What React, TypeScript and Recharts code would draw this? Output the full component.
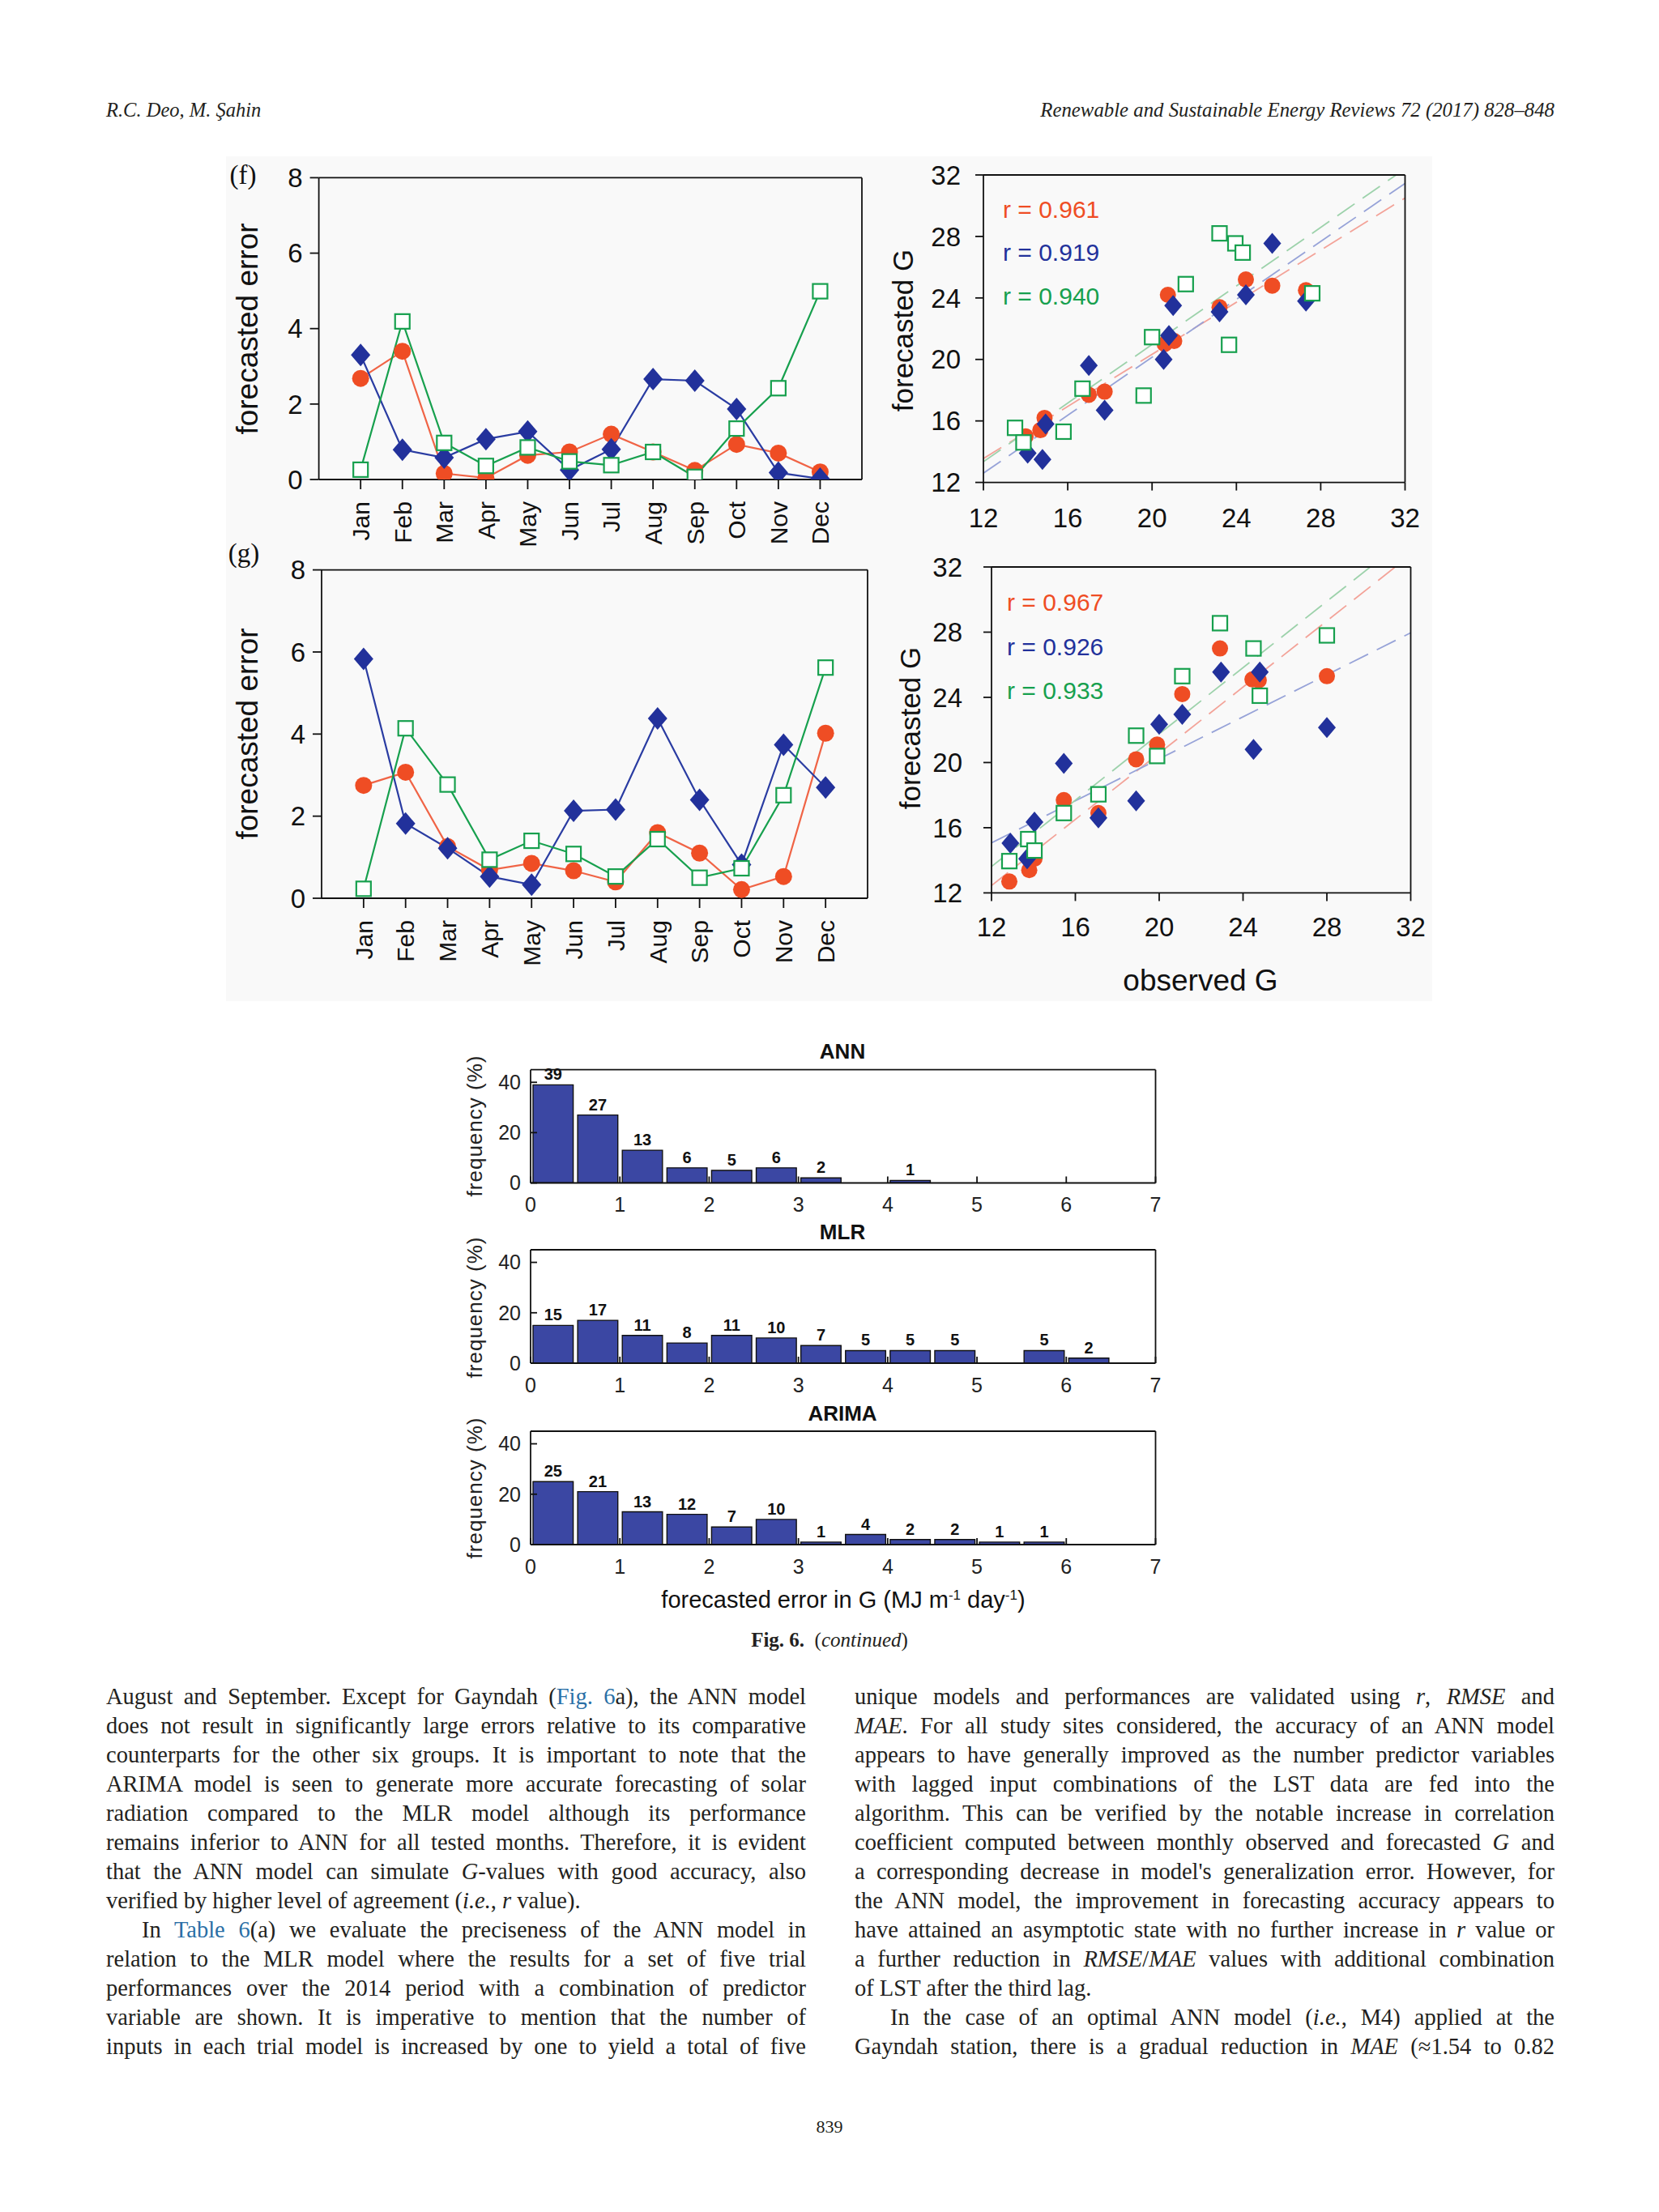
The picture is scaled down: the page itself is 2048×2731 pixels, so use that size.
import React from 'react';
import {
  LineChart, Line, XAxis, YAxis, ScatterChart, Scatter, ReferenceLine, ComposedChart, Bar, LabelList,
} from 'recharts';

// ---------------- data ----------------
const months = ['Jan', 'Feb', 'Mar', 'Apr', 'May', 'Jun', 'Jul', 'Aug', 'Sep', 'Oct', 'Nov', 'Dec'];
const monthPos = [1, 2, 3, 4, 5, 6, 7, 8, 9, 10, 11, 12];
const errTicks = [0, 2, 4, 6, 8];

// panel (f): monthly forecasted error
const errF_ANN = [2.68, 3.4, 0.16, 0.04, 0.64, 0.73, 1.2, 0.73, 0.24, 0.93, 0.7, 0.2];
const errF_MLR = [3.3, 0.79, 0.58, 1.07, 1.27, 0.25, 0.8, 2.66, 2.62, 1.87, 0.18, 0.02];
const errF_ARIMA = [0.26, 4.19, 0.97, 0.36, 0.85, 0.48, 0.38, 0.73, 0.07, 1.35, 2.42, 4.99];
// panel (g): monthly forecasted error
const errG_ANN = [2.75, 3.07, 1.26, 0.69, 0.85, 0.67, 0.4, 1.6, 1.1, 0.21, 0.53, 4.02];
const errG_MLR = [5.83, 1.82, 1.22, 0.53, 0.33, 2.13, 2.16, 4.38, 2.4, 0.82, 3.74, 2.7];
const errG_ARIMA = [0.23, 4.14, 2.77, 0.94, 1.4, 1.08, 0.53, 1.44, 0.5, 0.73, 2.51, 5.62];

// scatter (f): observed vs forecasted G
const obsF_ANN = [14.0, 14.7, 14.9, 17.0, 17.75, 20.6, 20.75, 21.05, 23.2, 24.45, 25.7, 27.3];
const fcF_ANN = [15.0, 15.4, 16.2, 17.7, 17.9, 21.0, 24.2, 21.2, 23.4, 25.2, 24.8, 24.5];
const obsF_MLR = [14.1, 14.8, 14.95, 17.0, 17.75, 20.55, 20.8, 21.0, 23.2, 24.45, 25.7, 27.3];
const fcF_MLR = [13.9, 13.5, 15.8, 19.6, 16.7, 20.0, 21.55, 23.5, 23.1, 24.2, 27.55, 23.8];
const obsF_ARIMA = [13.5, 13.9, 15.8, 16.7, 19.6, 20.0, 21.6, 23.2, 23.95, 24.3, 23.65, 27.6];
const fcF_ARIMA = [15.55, 14.6, 15.3, 18.1, 17.65, 21.45, 24.9, 28.2, 27.55, 26.95, 20.95, 24.3];
// scatter (g)
const obsG_ANN = [12.85, 13.8, 14.05, 15.45, 17.1, 18.9, 19.9, 21.1, 22.9, 24.45, 24.75, 28.0];
const fcG_ANN = [12.7, 13.4, 14.1, 17.7, 16.9, 20.2, 21.1, 24.2, 27.0, 25.1, 25.05, 25.3];
const obsG_MLR = [12.9, 13.7, 14.05, 15.45, 17.1, 18.9, 20.0, 21.1, 22.95, 24.5, 24.8, 28.0];
const fcG_MLR = [15.05, 14.1, 16.35, 19.95, 16.6, 17.65, 22.35, 22.95, 25.55, 20.8, 25.55, 22.15];
const obsG_ARIMA = [12.85, 13.75, 14.05, 15.45, 17.1, 18.9, 19.9, 21.1, 22.9, 24.5, 24.8, 28.0];
const fcG_ARIMA = [13.95, 15.3, 14.6, 16.9, 18.05, 21.65, 20.4, 25.3, 28.55, 27.0, 24.1, 27.8];

// fitted lines: forecasted G at observed G = 12 and 32
const fitX = [12, 32];
const fitF_ANN = [13.55, 30.5];
const fitF_MLR = [12.6, 31.45];
const fitF_ARIMA = [13.35, 32.4];
const fitG_ANN = [12.45, 32.75];
const fitG_MLR = [15.07, 27.96];
const fitG_ARIMA = [13.62, 33.96];
const rF = ['r = 0.961', 'r = 0.919', 'r = 0.940'];
const rG = ['r = 0.967', 'r = 0.926', 'r = 0.933'];
const gTicks = [12, 16, 20, 24, 28, 32];

// histograms of forecasted error (bin width 0.5)
const binCentres = [0.25, 0.75, 1.25, 1.75, 2.25, 2.75, 3.25, 3.75, 4.25, 4.75, 5.25, 5.75, 6.25, 6.75];
const freqANN = [39, 27, 13, 6, 5, 6, 2, 0, 1, 0, 0, 0, 0, 0];
const freqMLR = [15, 17, 11, 8, 11, 10, 7, 5, 5, 5, 0, 5, 2, 0];
const freqARIMA = [25, 21, 13, 12, 7, 10, 1, 4, 2, 2, 1, 1, 0, 0];
const histTicksX = [0, 1, 2, 3, 4, 5, 6, 7];
const histTicksY = [0, 20, 40];

// ---------------- styles ----------------
const SANS = '"Liberation Sans", Arial, Helvetica, sans-serif';
const NARROW = '"Liberation Sans Narrow", "Arial Narrow", "Liberation Sans", sans-serif';
const SERIF = '"Liberation Serif", "Times New Roman", serif';
const RED = '#ef4d24';
const RED_LINE = '#f06446';
const BLUE = '#22319b';
const BLUE_LINE = '#2a3ca2';
const GREEN = '#17a04e';
const BAR = '#3b47a3';
const INK = '#231f20';
const LINK = '#2a6fa6';

type Rect = [number, number, number, number];
// plot rect -> chart margins (a 1px top axis and a 1px right axis frame the box)
function frame(L: number, T: number, W: number, H: number, plot: Rect, yw: number, xh: number) {
  return {
    style: { position: 'absolute' as const, left: L, top: T, width: W, height: H },
    margin: { left: plot[0] - L - yw, top: plot[1] - T - 1, right: L + W - plot[2] - 1, bottom: T + H - plot[3] - xh },
  };
}

const diamondShape = (w: number, h: number) => (p: any) =>
  p.cx == null ? <g key={`dn-${p.index}`} /> : (
    <polygon key={`d-${p.index}`} points={`${p.cx},${p.cy - h} ${p.cx + w},${p.cy} ${p.cx},${p.cy + h} ${p.cx - w},${p.cy}`} fill={BLUE} />
  );
const circleShape = (r: number) => (p: any) =>
  p.cx == null ? <g key={`cn-${p.index}`} /> : <circle key={`c-${p.index}`} cx={p.cx} cy={p.cy} r={r} fill={RED} />;
const squareShape = (s: number) => (p: any) =>
  p.cx == null ? <g key={`sn-${p.index}`} /> : (
    <rect key={`s-${p.index}`} x={p.cx - s / 2} y={p.cy - s / 2} width={s} height={s} fill="#fff" stroke={GREEN} strokeWidth={2.2} />
  );
const noShape = (p: any) => <g key={`n-${p.index}`} />;

const MonthTick = (p: any) => {
  const { x, y, payload } = p;
  return (
    <text x={x} y={y} transform={`rotate(-90 ${x} ${y})`} textAnchor="end" dy="0.36em" fontSize={30} fontFamily={SANS} fill="#111">
      {months[monthPos.indexOf(payload.value)]}
    </text>
  );
};

const axisStroke = { stroke: '#111', strokeWidth: 1.8 };

function ErrorPanel({ L, T, W, H, plot, ann, mlr, arima }: any) {
  const data = monthPos.map((m, i) => ({ m, ann: ann[i], mlr: mlr[i], arima: arima[i] }));
  const f = frame(L, T, W, H, plot, 60, 100);
  return (
    <div style={f.style}>
      <LineChart width={W} height={H} data={data} margin={f.margin}>
        <XAxis dataKey="m" type="number" domain={[0, 13]} ticks={monthPos} interval={0} height={100}
          tickSize={12} tickMargin={15} tick={(p: any) => <MonthTick {...p} />} axisLine={axisStroke} tickLine={axisStroke} allowDataOverflow />
        <XAxis xAxisId="top" dataKey="m" orientation="top" type="number" domain={[0, 13]} ticks={monthPos} height={1} tick={false} tickLine={false} axisLine={axisStroke} allowDataOverflow />
        <YAxis type="number" domain={[0, 8]} ticks={errTicks} width={60} tickSize={11} tickMargin={9}
          tick={{ fill: '#111', fontSize: 33, fontFamily: SANS }} axisLine={axisStroke} tickLine={axisStroke} allowDataOverflow />
        <YAxis yAxisId="right" orientation="right" type="number" domain={[0, 8]} ticks={errTicks} width={1} tick={false} tickLine={false} axisLine={axisStroke} allowDataOverflow />
        <Line xAxisId="top" yAxisId="right" dataKey="ann" stroke="none" dot={false} activeDot={false} isAnimationActive={false} />
        <Line dataKey="ann" stroke={RED_LINE} strokeWidth={2.2} dot={circleShape(10.5)} activeDot={false} isAnimationActive={false} />
        <Line dataKey="mlr" stroke={BLUE_LINE} strokeWidth={2.2} dot={diamondShape(12, 14)} activeDot={false} isAnimationActive={false} />
        <Line dataKey="arima" stroke={GREEN} strokeWidth={2.2} dot={squareShape(18)} activeDot={false} isAnimationActive={false} />
      </LineChart>
    </div>
  );
}

const pts = (xs: number[], ys: number[]) => xs.map((x, i) => ({ x, y: ys[i] }));

function ScatterPanel({ L, T, W, H, plot, obs, fc, fits, tm }: any) {
  const f = frame(L, T, W, H, plot, 70, 70);
  const fitColors = ['#f3a399', '#97a3d8', '#9dd2ab'];
  return (
    <div style={f.style}>
      <ScatterChart width={W} height={H} margin={f.margin}>
        <XAxis dataKey="x" type="number" domain={[12, 32]} ticks={gTicks} interval={0} height={70} tickSize={10} tickMargin={tm[0]}
          tick={{ fill: '#111', fontSize: 33, fontFamily: SANS }} axisLine={axisStroke} tickLine={axisStroke} allowDataOverflow />
        <XAxis xAxisId="top" dataKey="x" orientation="top" type="number" domain={[12, 32]} ticks={gTicks} height={1} tick={false} tickLine={false} axisLine={axisStroke} allowDataOverflow />
        <YAxis dataKey="y" type="number" domain={[12, 32]} ticks={gTicks} interval={0} width={70} tickSize={10} tickMargin={tm[1]}
          tick={{ fill: '#111', fontSize: 33, fontFamily: SANS }} axisLine={axisStroke} tickLine={axisStroke} allowDataOverflow />
        <YAxis yAxisId="right" dataKey="y" orientation="right" type="number" domain={[12, 32]} ticks={gTicks} width={1} tick={false} tickLine={false} axisLine={axisStroke} allowDataOverflow />
        <Scatter xAxisId="top" yAxisId="right" data={pts(obs[0], fc[0])} shape={noShape} isAnimationActive={false} />
        {fits.map((fit: number[], i: number) => (
          <ReferenceLine key={`fit-${i}`} segment={[{ x: fitX[0], y: fit[0] }, { x: fitX[1], y: fit[1] }]}
            stroke={fitColors[i]} strokeWidth={1.8} strokeDasharray="26 12" ifOverflow="hidden" />
        ))}
        <Scatter data={pts(obs[0], fc[0])} shape={circleShape(10)} isAnimationActive={false} />
        <Scatter data={pts(obs[1], fc[1])} shape={diamondShape(11, 13)} isAnimationActive={false} />
        <Scatter data={pts(obs[2], fc[2])} shape={squareShape(18)} isAnimationActive={false} />
      </ScatterChart>
    </div>
  );
}

function Histogram({ L, T, W, H, plot, freq }: any) {
  const data = binCentres.map((c, i) => ({ c, f: freq[i] }));
  const f = frame(L, T, W, H, plot, 80, 50);
  const barW = (plot[2] - plot[0]) / binCentres.length;
  const tickFont = { fill: '#222', fontSize: 25, fontFamily: NARROW };
  return (
    <div style={f.style}>
      <ComposedChart width={W} height={H} data={data} margin={f.margin} barCategoryGap={0} barGap={0}>
        <XAxis dataKey="c" type="number" domain={[0, 7]} ticks={histTicksX} interval={0} height={50} tickSize={-8} tickMargin={26}
          tick={tickFont} axisLine={axisStroke} tickLine={axisStroke} allowDataOverflow />
        <XAxis xAxisId="top" dataKey="c" orientation="top" type="number" domain={[0, 7]} ticks={histTicksX} interval={0} height={1} tickSize={-8}
          tick={false} axisLine={axisStroke} tickLine={axisStroke} allowDataOverflow />
        <YAxis type="number" domain={[0, 45]} ticks={histTicksY} interval={0} width={80} tickSize={-8} tickMargin={20}
          tick={tickFont} axisLine={axisStroke} tickLine={axisStroke} allowDataOverflow />
        <YAxis yAxisId="right" orientation="right" type="number" domain={[0, 45]} ticks={histTicksY} interval={0} width={1} tickSize={-8}
          tick={false} axisLine={axisStroke} tickLine={axisStroke} allowDataOverflow />
        <Line xAxisId="top" yAxisId="right" dataKey="f" stroke="none" dot={false} activeDot={false} isAnimationActive={false} />
        <Bar dataKey="f" barSize={barW} fill={BAR} stroke="#111" strokeWidth={1.4} isAnimationActive={false}>
          <LabelList dataKey="f" position="top" offset={6} formatter={(v: any) => (v > 0 ? v : '')}
            style={{ fontSize: 20, fontWeight: 700, fontFamily: NARROW, fill: '#111' }} />
        </Bar>
      </ComposedChart>
    </div>
  );
}

const abs = (cx: number, cy: number, style: any, children: any, rot = false) => (
  <div style={{
    position: 'absolute', left: cx, top: cy, whiteSpace: 'nowrap', lineHeight: 1,
    transform: rot ? 'translate(-50%,-50%) rotate(-90deg)' : 'translate(-50%,-50%)', ...style,
  }}>{children}</div>
);
const leftText = (x: number, cy: number, style: any, children: any) => (
  <div style={{ position: 'absolute', left: x, top: cy, whiteSpace: 'nowrap', lineHeight: 1, transform: 'translateY(-50%)', ...style }}>{children}</div>
);

const TL = ({ children, last, indent }: any) => (
  <div style={{ height: 36, lineHeight: '36px', textAlign: 'justify', textAlignLast: last ? 'left' : 'justify', textIndent: indent ? 44 : 0 }}>
    {children}
  </div>
);
const I = ({ children }: any) => <i>{children}</i>;
const A = ({ children }: any) => <span style={{ color: LINK }}>{children}</span>;

export default function App() {
  const errTitle = { fontFamily: SANS, fontSize: 37, color: '#111' };
  const gTitle = { fontFamily: SANS, fontSize: 35, color: '#111' };
  const rStyle = (c: string) => ({ fontFamily: SANS, fontSize: 30, color: c });
  const histTitle = { fontFamily: NARROW, fontSize: 26, fontWeight: 700, color: '#111' };
  const freqLabel = { fontFamily: SANS, fontSize: 26, color: '#222', letterSpacing: 1 };
  const col = { position: 'absolute' as const, top: 2077, width: 864, fontFamily: SERIF, fontSize: 28.5, color: INK };
  return (
    <div style={{ position: 'absolute', left: 0, top: 0, width: 2048, height: 2731, background: '#fff', overflow: 'hidden' }}>
      <div style={{ position: 'absolute', left: 279, top: 193, width: 1489, height: 1043, background: '#f9f9f9' }} />

      <ErrorPanel L={260} T={190} W={820} H={502} plot={[393.6, 219.4, 1064, 592]} ann={errF_ANN} mlr={errF_MLR} arima={errF_ARIMA} />
      <ErrorPanel L={260} T={680} W={830} H={529} plot={[397, 703.6, 1071, 1109]} ann={errG_ANN} mlr={errG_MLR} arima={errG_ARIMA} />
      <ScatterPanel L={1100} T={190} W={680} H={476} plot={[1214, 216, 1734.5, 595.6]} tm={[22, 18]}
        obs={[obsF_ANN, obsF_MLR, obsF_ARIMA]} fc={[fcF_ANN, fcF_MLR, fcF_ARIMA]} fits={[fitF_ANN, fitF_MLR, fitF_ARIMA]} />
      <ScatterPanel L={1100} T={680} W={680} H={493} plot={[1224, 700, 1741.5, 1102.4]} tm={[20, 26]}
        obs={[obsG_ANN, obsG_MLR, obsG_ARIMA]} fc={[fcG_ANN, fcG_MLR, fcG_ARIMA]} fits={[fitG_ANN, fitG_MLR, fitG_ARIMA]} />

      <Histogram L={560} T={1300} W={900} H={211} plot={[655, 1320.7, 1426.5, 1460.5]} freq={freqANN} />
      <Histogram L={560} T={1520} W={900} H={213} plot={[655, 1543, 1426.5, 1683]} freq={freqMLR} />
      <Histogram L={560} T={1745} W={900} H={212} plot={[655, 1767, 1426.5, 1907]} freq={freqARIMA} />

      {/* header */}
      {leftText(131, 136, { fontFamily: SERIF, fontStyle: 'italic', fontSize: 24.5, color: INK }, 'R.C. Deo, M. Şahin')}
      <div style={{ position: 'absolute', right: 2048 - 1919, top: 136, transform: 'translateY(-50%)', whiteSpace: 'nowrap', lineHeight: 1, fontFamily: SERIF, fontStyle: 'italic', fontSize: 24.8, color: INK }}>
        Renewable and Sustainable Energy Reviews 72 (2017) 828–848
      </div>

      {/* panel labels and titles */}
      {abs(300, 216, { fontFamily: SERIF, fontSize: 33, color: '#111' }, '(f)')}
      {abs(301, 683, { fontFamily: SERIF, fontSize: 33, color: '#111' }, '(g)')}
      {abs(305, 406, errTitle, 'forecasted error', true)}
      {abs(305, 906, errTitle, 'forecasted error', true)}
      {abs(1114, 408, gTitle, 'forecasted G', true)}
      {abs(1123, 899, gTitle, 'forecasted G', true)}
      {abs(1482, 1210, { ...errTitle, fontSize: 37 }, 'observed G')}
      {leftText(1238, 259, rStyle(RED), rF[0])}
      {leftText(1238, 312, rStyle(BLUE), rF[1])}
      {leftText(1238, 366, rStyle(GREEN), rF[2])}
      {leftText(1243, 744, rStyle(RED), rG[0])}
      {leftText(1243, 799, rStyle(BLUE), rG[1])}
      {leftText(1243, 853, rStyle(GREEN), rG[2])}

      {abs(1040, 1298, histTitle, 'ANN')}
      {abs(1040, 1521, histTitle, 'MLR')}
      {abs(1040, 1745, histTitle, 'ARIMA')}
      {abs(586, 1390, freqLabel, 'frequency (%)', true)}
      {abs(586, 1614, freqLabel, 'frequency (%)', true)}
      {abs(586, 1837, freqLabel, 'frequency (%)', true)}
      {abs(1041, 1975, { fontFamily: NARROW, fontSize: 29, color: '#111' },
        <span>forecasted error in G (MJ m<sup style={{ fontSize: 17 }}>-1</sup> day<sup style={{ fontSize: 17 }}>-1</sup>)</span>)}

      {/* caption */}
      {abs(1024, 2024, { fontFamily: SERIF, fontSize: 25, color: INK },
        <span><b>Fig. 6.</b>&nbsp;&nbsp;(<i>continued</i>)</span>)}

      {/* body text */}
      <div style={{ ...col, left: 131 }}>
        <TL>August and September. Except for Gayndah (<A>Fig. 6</A>a), the ANN model</TL>
        <TL>does not result in significantly large errors relative to its comparative</TL>
        <TL>counterparts for the other six groups. It is important to note that the</TL>
        <TL>ARIMA model is seen to generate more accurate forecasting of solar</TL>
        <TL>radiation compared to the MLR model although its performance</TL>
        <TL>remains inferior to ANN for all tested months. Therefore, it is evident</TL>
        <TL>that the ANN model can simulate <I>G</I>-values with good accuracy, also</TL>
        <TL last>verified by higher level of agreement (<I>i.e.</I>, <I>r</I> value).</TL>
        <TL indent>In <A>Table 6</A>(a) we evaluate the preciseness of the ANN model in</TL>
        <TL>relation to the MLR model where the results for a set of five trial</TL>
        <TL>performances over the 2014 period with a combination of predictor</TL>
        <TL>variable are shown. It is imperative to mention that the number of</TL>
        <TL>inputs in each trial model is increased by one to yield a total of five</TL>
      </div>
      <div style={{ ...col, left: 1055 }}>
        <TL>unique models and performances are validated using <I>r</I>, <I>RMSE</I> and</TL>
        <TL><I>MAE</I>. For all study sites considered, the accuracy of an ANN model</TL>
        <TL>appears to have generally improved as the number predictor variables</TL>
        <TL>with lagged input combinations of the LST data are fed into the</TL>
        <TL>algorithm. This can be verified by the notable increase in correlation</TL>
        <TL>coefficient computed between monthly observed and forecasted <I>G</I> and</TL>
        <TL>a corresponding decrease in model's generalization error. However, for</TL>
        <TL>the ANN model, the improvement in forecasting accuracy appears to</TL>
        <TL>have attained an asymptotic state with no further increase in <I>r</I> value or</TL>
        <TL>a further reduction in <I>RMSE</I>/<I>MAE</I> values with additional combination</TL>
        <TL last>of LST after the third lag.</TL>
        <TL indent>In the case of an optimal ANN model (<I>i.e.</I>, M4) applied at the</TL>
        <TL>Gayndah station, there is a gradual reduction in <I>MAE</I> (≈1.54 to 0.82</TL>
      </div>

      {abs(1024, 2626, { fontFamily: SERIF, fontSize: 22, color: INK }, '839')}
    </div>
  );
}
